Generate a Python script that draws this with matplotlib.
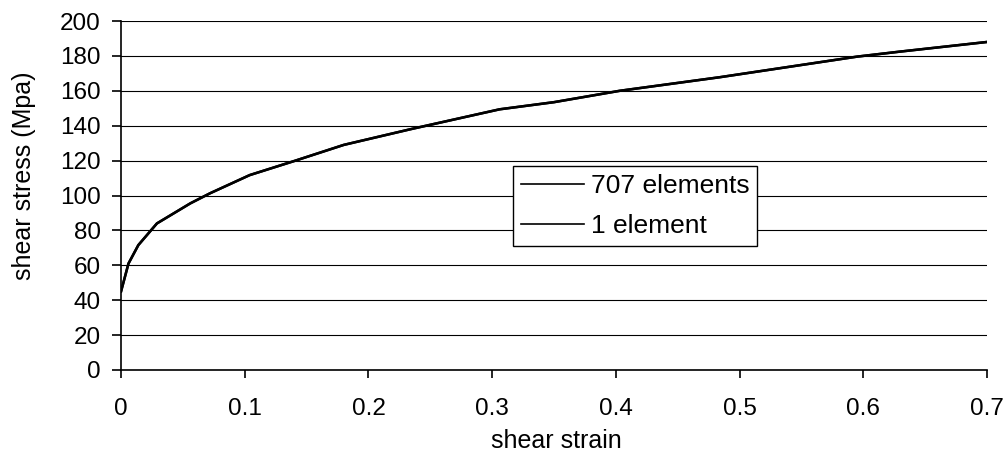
import matplotlib
matplotlib.use("Agg")
import matplotlib.pyplot as plt

plt.rcParams['font.family'] = ['Liberation Sans', 'DejaVu Sans']

# curve (both series lie on top of each other)
strain_707 = [0, 0.006, 0.014, 0.029, 0.056, 0.072, 0.104, 0.141, 0.18, 0.234,
              0.306, 0.35, 0.403, 0.484, 0.595, 0.63, 0.7]
stress_707 = [45, 61, 71.6, 84, 95.5, 101.3, 111.7, 120, 129, 138,
              149.4, 153.5, 160, 167.8, 179.6, 182.5, 188]
strain_1 = [0, 0.006, 0.014, 0.029, 0.056, 0.072, 0.104, 0.141, 0.18, 0.234,
            0.306, 0.35, 0.403, 0.484, 0.595, 0.63, 0.7]
stress_1 = [45, 61, 71.6, 84, 95.5, 101.3, 111.7, 120, 129, 138,
            149.4, 153.5, 160, 167.8, 179.6, 182.5, 188]
labels = ["707 elements", "1 element"]
xticks = [0, 0.1, 0.2, 0.3, 0.4, 0.5, 0.6, 0.7]
yticks = list(range(0, 201, 20))

fs = 17.5

fig = plt.figure(figsize=(10.07, 4.59), dpi=100)
ax = fig.add_axes([0.1202, 0.1939, 0.8600, 0.7603])

ax.plot(strain_707, stress_707, color='black', lw=1.8, label=labels[0])
ax.plot(strain_1, stress_1, color='black', lw=1.8, label=labels[1])

ax.set_xlim(0, 0.7)
ax.set_ylim(0, 200)
ax.set_xticks(xticks)
ax.set_xticklabels(["0"] + [f"{t:g}" for t in xticks[1:]])
ax.set_yticks(yticks)
ax.yaxis.grid(True, color='black', lw=0.8)
ax.set_axisbelow(True)

for s in ['top', 'right']:
    ax.spines[s].set_visible(False)
for s in ['left', 'bottom']:
    ax.spines[s].set_linewidth(1.2)

ax.tick_params(axis='y', length=6.5, width=1.2, pad=8, labelsize=fs)
ax.tick_params(axis='x', length=6, width=1.2, pad=14, labelsize=fs)

ax.set_xlabel("shear strain", fontsize=18, va='center')
ax.xaxis.set_label_coords(0.5023, -0.203)
ax.set_ylabel("shear stress (Mpa)", fontsize=18, va='center')
ax.yaxis.set_label_coords(-0.112, 0.557)

leg = ax.legend(loc='upper left', bbox_to_anchor=(0.4527, 0.5845),
                borderaxespad=0, fontsize=19, fancybox=False, frameon=True,
                edgecolor='black', framealpha=1, handlelength=2.4,
                handletextpad=0.25, labelspacing=0.6, borderpad=0.3)
leg.get_frame().set_linewidth(1.0)
for h in leg.get_lines():
    h.set_linewidth(1.2)

fig.savefig("out.png", dpi=100)
